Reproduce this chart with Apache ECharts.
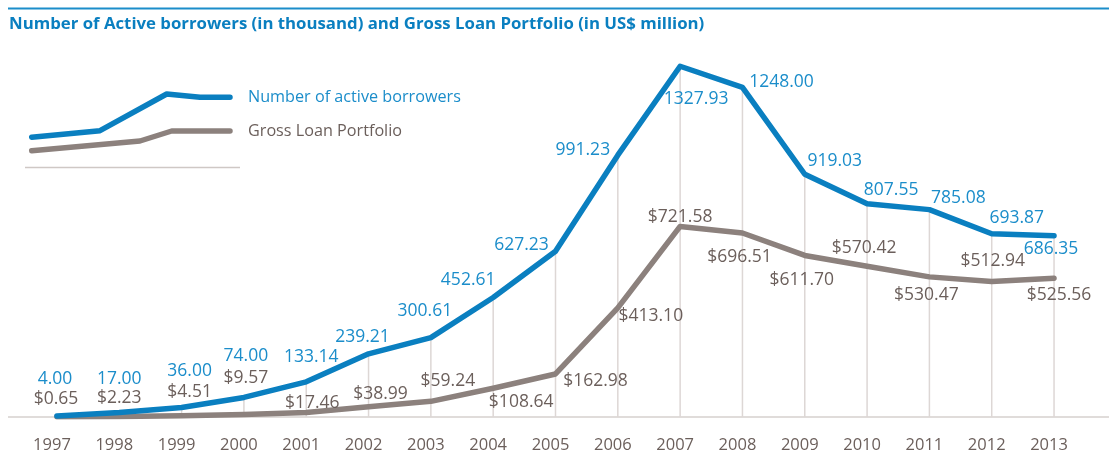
<!DOCTYPE html>
<html>
<head>
<meta charset="utf-8">
<script src="https://cdn.jsdelivr.net/npm/echarts@6/dist/echarts.min.js"></script>
<style>
  html, body { margin: 0; padding: 0; background: #ffffff; }
  #chart { width: 1109px; height: 454px; }
</style>
</head>
<body>
<div id="chart"></div>
<script>
// Years on the category axis
const years = ['1997', '1998', '1999', '2000', '2001', '2002', '2003', '2004', '2005',
               '2006', '2007', '2008', '2009', '2010', '2011', '2012', '2013'];

// Number of active borrowers (in thousand)
const borrowers = [4.00, 17.00, 36.00, 74.00, 133.14, 239.21, 300.61, 452.61, 627.23,
                   991.23, 1327.93, 1248.00, 919.03, 807.55, 785.08, 693.87, 686.35];

// Gross loan portfolio (in US$ million)
const loanPortfolio = [0.65, 2.23, 4.51, 9.57, 17.46, 38.99, 59.24, 108.64, 162.98,
                       413.10, 721.58, 696.51, 611.70, 570.42, 530.47, 512.94, 525.56];

// Value label nudges [dx, dy] from each point, so labels clear the lines
const borrowerLabelOffsets = [[-2, -37], [0, -33], [8, -36], [2, -41], [5, -25], [-6, -17],
  [-6, -27], [-25, -17], [-34, -6], [-35, -5], [16, 33], [39, -5], [30, -13], [24, -14],
  [29, -12], [25, -16], [-3, 13]];
const loanLabelOffsets = [[-1, -18], [0, -18], [8, -24], [2, -36], [6, -9], [12, -13],
  [17, -20], [28, 14], [40, 7], [33, 8], [0, -9], [-3, 24], [-3, 25], [-3, -18],
  [-3, 18], [1, -20], [5, 17]];

const BLUE_LINE = '#0a7fc0';
const BLUE_TEXT = '#1b8dca';
const GREY_LINE = '#8c817d';
const GREY_TEXT = '#6b5f5b';
const GRID_GREY = '#ddd7d5';
const LABEL_FONT = '"Open Sans", "Noto Sans", sans-serif';

const chart = echarts.init(document.getElementById('chart'), null, { renderer: 'canvas' });

function labelled(values, offsets) {
  return values.map((v, i) => ({ value: v, label: { offset: offsets[i] } }));
}

const option = {
  animation: false,
  backgroundColor: '#ffffff',
  grid: { left: 25.8, right: 23.8, top: 47.2, bottom: 35.5, containLabel: false },
  xAxis: {
    type: 'category',
    data: years,
    boundaryGap: true,
    axisLine: { show: false },
    axisTick: { show: false },
    splitLine: { show: false },
    axisLabel: {
      margin: 20,
      color: GREY_TEXT,
      fontFamily: LABEL_FONT,
      fontSize: 16.5,
      padding: [0, 10, 0, 0]
    }
  },
  yAxis: {
    type: 'value',
    min: 0,
    max: 1400,
    show: false,
    splitLine: { show: false }
  },
  series: [
    {
      // thin drop lines from each year up to the borrowers line
      name: 'drop',
      type: 'bar',
      data: borrowers,
      barWidth: 1.5,
      silent: true,
      z: 1,
      itemStyle: { color: GRID_GREY },
      label: { show: false }
    },
    {
      name: 'Gross Loan Portfolio',
      type: 'line',
      data: labelled(loanPortfolio, loanLabelOffsets),
      z: 3,
      symbol: 'circle',
      symbolSize: 1,
      showSymbol: true,
      itemStyle: { color: GREY_LINE },
      lineStyle: { color: GREY_LINE, width: 5.5, cap: 'round', join: 'round' },
      label: {
        show: true,
        position: 'inside',
        align: 'center',
        verticalAlign: 'middle',
        color: GREY_TEXT,
        fontFamily: LABEL_FONT,
        fontSize: 17.5,
        formatter: p => '$' + p.value.toFixed(2)
      }
    },
    {
      name: 'Number of active borrowers',
      type: 'line',
      data: labelled(borrowers, borrowerLabelOffsets),
      z: 4,
      symbol: 'circle',
      symbolSize: 1,
      showSymbol: true,
      itemStyle: { color: BLUE_LINE },
      lineStyle: { color: BLUE_LINE, width: 5.5, cap: 'round', join: 'round' },
      label: {
        show: true,
        position: 'inside',
        align: 'center',
        verticalAlign: 'middle',
        color: BLUE_TEXT,
        fontFamily: LABEL_FONT,
        fontSize: 17.5,
        formatter: p => p.value.toFixed(2)
      }
    }
  ],
  graphic: [
    // rule above the heading
    { type: 'line', shape: { x1: 8, y1: 8.5, x2: 1109, y2: 8.5 },
      style: { stroke: '#1b8dca', lineWidth: 2 }, silent: true },
    { type: 'text', x: 9, y: 24.5,
      style: { text: 'Number of Active borrowers (in thousand) and Gross Loan Portfolio (in US$ million)',
               fill: '#0a7fc0', font: 'bold 16.8px "Open Sans", Roboto, sans-serif',
               textVerticalAlign: 'middle' } },
    // legend swatches
    { type: 'polyline', shape: { points: [[31.7, 137.3], [100, 130.7], [166.7, 94], [200, 97.3], [230, 97.3]] },
      style: { stroke: BLUE_LINE, lineWidth: 5.5, fill: null, lineCap: 'round', lineJoin: 'round' }, silent: true },
    { type: 'polyline', shape: { points: [[31.7, 150.7], [140, 141], [171.7, 131], [230, 131]] },
      style: { stroke: GREY_LINE, lineWidth: 5.5, fill: null, lineCap: 'round', lineJoin: 'round' }, silent: true },
    { type: 'line', shape: { x1: 25, y1: 167.5, x2: 240, y2: 167.5 },
      style: { stroke: '#cfc8c5', lineWidth: 1.5 }, silent: true },
    { type: 'text', x: 248, y: 97.5,
      style: { text: 'Number of active borrowers', fill: BLUE_TEXT,
               font: '16.2px "Open Sans", "Noto Sans", sans-serif', textVerticalAlign: 'middle' } },
    { type: 'text', x: 248, y: 131.5,
      style: { text: 'Gross Loan Portfolio', fill: GREY_TEXT,
               font: '16.2px "Open Sans", "Noto Sans", sans-serif', textVerticalAlign: 'middle' } }
  ]
};

chart.setOption(option);

// baseline across the full width, placed at the value-axis zero
const y0 = chart.convertToPixel({ yAxisIndex: 0 }, 0);
chart.setOption({
  graphic: option.graphic.concat([
    { type: 'line', z: 0, shape: { x1: 8, y1: y0, x2: 1109, y2: y0 },
      style: { stroke: '#d6d0ce', lineWidth: 1.5 }, silent: true }
  ])
});
</script>
</body>
</html>
